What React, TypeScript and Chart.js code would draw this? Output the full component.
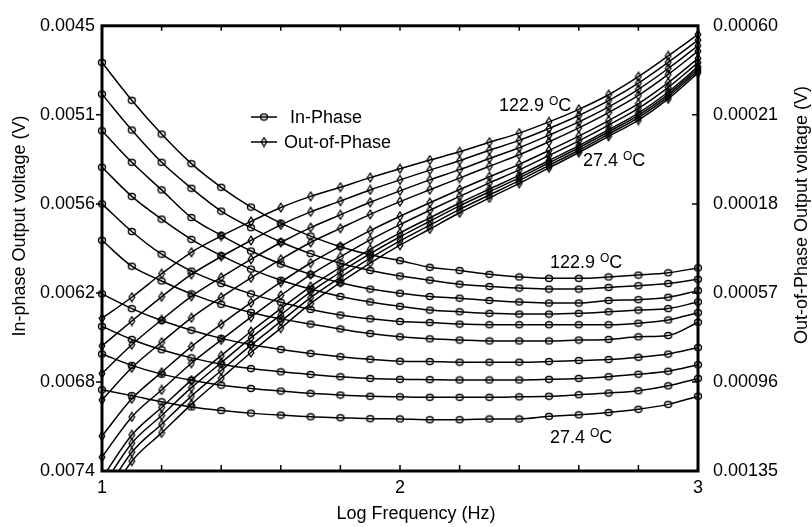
import React, { useEffect, useRef } from 'react';
import { Chart, registerables } from 'chart.js';

Chart.register(...registerables);

// Log frequency (x values)
const logFrequency = [1.0, 1.1, 1.2, 1.3, 1.4, 1.5, 1.6, 1.7, 1.8, 1.9, 2.0, 2.1, 2.2, 2.3, 2.4, 2.5, 2.6, 2.7, 2.8, 2.9, 3.0];

// In-phase output voltage, mV (curve 1 = 122.9 °C ... curve 10 = 27.4 °C)
const inPhase1 = [4.739, 4.985, 5.205, 5.398, 5.552, 5.681, 5.785, 5.870, 5.939, 5.992, 6.030, 6.073, 6.094, 6.119, 6.136, 6.145, 6.145, 6.136, 6.124, 6.109, 6.077];
const inPhase2 = [4.945, 5.179, 5.389, 5.558, 5.707, 5.815, 5.908, 5.984, 6.047, 6.094, 6.130, 6.157, 6.183, 6.198, 6.208, 6.215, 6.215, 6.204, 6.193, 6.179, 6.151];
const inPhase3 = [5.184, 5.389, 5.569, 5.749, 5.865, 5.967, 6.052, 6.119, 6.174, 6.215, 6.242, 6.263, 6.274, 6.289, 6.299, 6.306, 6.306, 6.289, 6.284, 6.268, 6.225];
const inPhase4 = [5.421, 5.611, 5.759, 5.891, 5.997, 6.085, 6.157, 6.215, 6.263, 6.299, 6.327, 6.352, 6.363, 6.373, 6.378, 6.378, 6.373, 6.363, 6.352, 6.342, 6.299];
const inPhase5 = [5.660, 5.840, 5.988, 6.098, 6.179, 6.246, 6.301, 6.348, 6.384, 6.409, 6.426, 6.433, 6.443, 6.447, 6.447, 6.447, 6.447, 6.447, 6.437, 6.416, 6.369];
const inPhase6 = [5.897, 6.066, 6.162, 6.246, 6.314, 6.367, 6.409, 6.443, 6.475, 6.505, 6.526, 6.539, 6.547, 6.553, 6.553, 6.553, 6.547, 6.543, 6.526, 6.517, 6.431];
const inPhase7 = [6.246, 6.342, 6.420, 6.483, 6.536, 6.577, 6.608, 6.634, 6.655, 6.672, 6.685, 6.687, 6.691, 6.691, 6.691, 6.687, 6.680, 6.674, 6.659, 6.638, 6.596];
const inPhase8 = [6.458, 6.543, 6.610, 6.663, 6.704, 6.733, 6.754, 6.771, 6.786, 6.797, 6.803, 6.805, 6.807, 6.807, 6.807, 6.803, 6.797, 6.786, 6.769, 6.750, 6.708];
const inPhase9 = [6.638, 6.712, 6.769, 6.809, 6.841, 6.862, 6.879, 6.894, 6.905, 6.913, 6.917, 6.920, 6.920, 6.920, 6.917, 6.913, 6.903, 6.892, 6.877, 6.845, 6.797];
const inPhase10 = [6.871, 6.909, 6.949, 6.983, 7.006, 7.023, 7.036, 7.047, 7.053, 7.059, 7.061, 7.066, 7.066, 7.061, 7.061, 7.044, 7.034, 7.019, 6.998, 6.966, 6.913];

// Out-of-phase output voltage, µV (curve 1 = 122.9 °C ... curve 10 = 27.4 °C)
const outPhase1 = [681, 589, 486, 392, 321, 257, 196, 147, 107, 65, 26, -12, -48, -90, -130, -179, -234, -298, -377, -468, -562];
const outPhase2 = [802, 693, 587, 489, 411, 340, 272, 215, 168, 119, 75, 32, -9, -55, -98, -150, -207, -272, -349, -440, -537];
const outPhase3 = [923, 797, 688, 585, 502, 423, 349, 284, 228, 173, 123, 75, 30, -19, -66, -121, -179, -245, -322, -413, -513];
const outPhase4 = [1039, 898, 786, 679, 589, 504, 423, 349, 287, 226, 170, 118, 67, 15, -35, -92, -153, -220, -295, -387, -489];
const outPhase5 = [1197, 1034, 918, 805, 707, 613, 523, 439, 366, 297, 234, 175, 117, 61, 7, -54, -117, -185, -259, -351, -457];
const outPhase6 = [1289, 1113, 995, 878, 776, 676, 581, 490, 412, 338, 271, 208, 147, 88, 31, -32, -96, -165, -238, -330, -439];
const outPhase7 = [1381, 1192, 1072, 952, 845, 739, 639, 542, 458, 379, 307, 241, 176, 115, 55, -10, -75, -145, -218, -310, -421];
const outPhase8 = [1422, 1228, 1107, 985, 876, 767, 666, 565, 479, 398, 324, 256, 189, 127, 66, 0, -66, -136, -208, -300, -412];
const outPhase9 = [1468, 1268, 1145, 1022, 910, 799, 695, 591, 502, 418, 342, 273, 204, 141, 78, 11, -55, -126, -198, -290, -403];
const outPhase10 = [1514, 1307, 1183, 1058, 944, 831, 724, 617, 524, 439, 361, 290, 219, 154, 90, 22, -45, -116, -187, -280, -394];

// Axis ticks
const xTickLabels = ['1', '2', '3'];
const leftTickValues = [0.0045, 0.00508, 0.00566, 0.00624, 0.00682, 0.0074];
const leftTickLabels = ['0.0045', '0.0051', '0.0056', '0.0062', '0.0068', '0.0074'];
const rightTickValues = [-0.0006, -0.00021, 0.00018, 0.00057, 0.00096, 0.00135];
const rightTickLabels = ['0.00060', '0.00021', '0.00018', '0.00057', '0.00096', '0.00135'];

// Temperature annotations
const annotationTexts = ['122.9', '27.4', '122.9', '27.4'];
const annotationX = [2.503, 2.503, 2.332, 2.614];
const annotationY = [0.006035, 0.007178, -0.000254, -0.000016];
const annotationAxis = ['y', 'y', 'y2', 'y2'];

const FONT = "'Liberation Sans', Arial, Helvetica, sans-serif";

function makeCircle(): HTMLCanvasElement {
  const c = document.createElement('canvas');
  c.width = 10;
  c.height = 9;
  const ctx = c.getContext('2d')!;
  ctx.strokeStyle = '#000';
  ctx.lineWidth = 1.4;
  ctx.beginPath();
  ctx.ellipse(5, 4.5, 3.5, 3.0, 0, 0, Math.PI * 2);
  ctx.stroke();
  return c;
}

function makeDiamond(): HTMLCanvasElement {
  const c = document.createElement('canvas');
  c.width = 8;
  c.height = 11;
  const ctx = c.getContext('2d')!;
  ctx.strokeStyle = '#000';
  ctx.lineWidth = 1.3;
  ctx.beginPath();
  ctx.moveTo(4, 1.2);
  ctx.lineTo(6.8, 5.5);
  ctx.lineTo(4, 9.8);
  ctx.lineTo(1.2, 5.5);
  ctx.closePath();
  ctx.stroke();
  return c;
}

export default function App() {
  const canvasRef = useRef<HTMLCanvasElement | null>(null);

  useEffect(() => {
    document.body.style.margin = '0';
    const canvas = canvasRef.current;
    if (!canvas) return;
    const circleImg = makeCircle();
    const diamondImg = makeDiamond();

    const inPhaseSeries = [inPhase1, inPhase2, inPhase3, inPhase4, inPhase5, inPhase6, inPhase7, inPhase8, inPhase9, inPhase10];
    const outPhaseSeries = [outPhase1, outPhase2, outPhase3, outPhase4, outPhase5, outPhase6, outPhase7, outPhase8, outPhase9, outPhase10];
    const clip = { left: 8, right: 8, top: 8, bottom: 0 };

    const datasets: any[] = [];
    inPhaseSeries.forEach((s, k) => {
      datasets.push({
        label: 'In-Phase ' + (k + 1),
        data: s.map((v, i) => ({ x: logFrequency[i], y: v / 1000 })),
        yAxisID: 'y',
        borderColor: '#000',
        borderWidth: 1.5,
        pointStyle: circleImg,
        pointRadius: 4,
        cubicInterpolationMode: 'monotone',
        clip,
      });
    });
    outPhaseSeries.forEach((s, k) => {
      datasets.push({
        label: 'Out-of-Phase ' + (k + 1),
        data: s.map((v, i) => ({ x: logFrequency[i], y: v / 1e6 })),
        yAxisID: 'y2',
        borderColor: '#000',
        borderWidth: 1.5,
        pointStyle: diamondImg,
        pointRadius: 4,
        cubicInterpolationMode: 'monotone',
        clip,
      });
    });

    const decor = {
      id: 'decor',
      afterDraw(chart: any) {
        const { ctx, chartArea: a, scales } = chart;
        ctx.save();
        ctx.strokeStyle = '#000';
        ctx.fillStyle = '#000';
        // frame
        ctx.lineWidth = 3;
        ctx.strokeRect(a.left, a.top, a.right - a.left, a.bottom - a.top);
        // x ticks (inward, bottom and top)
        ctx.lineWidth = 1.5;
        ctx.beginPath();
        for (const t of scales.x.ticks) {
          const px = scales.x.getPixelForValue(t.value);
          if (px <= a.left + 2 || px >= a.right - 2) continue;
          ctx.moveTo(px, a.bottom);
          ctx.lineTo(px, a.bottom - 6);
          ctx.moveTo(px, a.top);
          ctx.lineTo(px, a.top + 5);
        }
        // left ticks (outward)
        for (const v of leftTickValues) {
          const py = scales.y.getPixelForValue(v);
          if (py <= a.top + 2 || py >= a.bottom - 2) continue;
          ctx.moveTo(a.left - 6, py);
          ctx.lineTo(a.left, py);
        }
        // right ticks (inward)
        for (const v of rightTickValues) {
          const py = scales.y2.getPixelForValue(v);
          if (py <= a.top + 2 || py >= a.bottom - 2) continue;
          ctx.moveTo(a.right - 6, py);
          ctx.lineTo(a.right, py);
        }
        ctx.stroke();

        // axis titles
        ctx.font = '18px ' + FONT;
        ctx.textAlign = 'center';
        ctx.textBaseline = 'middle';
        ctx.fillText('Log Frequency (Hz)', (a.left + a.right) / 2 + 16, a.bottom + 43);
        ctx.save();
        ctx.translate(20, 226);
        ctx.rotate(-Math.PI / 2);
        ctx.fillText('In-phase Output voltage (V)', 0, 0);
        ctx.restore();
        ctx.save();
        ctx.translate(802, 215);
        ctx.rotate(-Math.PI / 2);
        ctx.fillText('Out-of-Phase Output voltage (V)', 0, 0);
        ctx.restore();

        // temperature annotations
        ctx.textAlign = 'left';
        ctx.textBaseline = 'alphabetic';
        for (let i = 0; i < annotationTexts.length; i++) {
          const px = scales.x.getPixelForValue(annotationX[i]);
          const py = scales[annotationAxis[i]].getPixelForValue(annotationY[i]) + 6.5;
          ctx.font = '18px ' + FONT;
          const t = annotationTexts[i] + ' ';
          ctx.fillText(t, px, py);
          let w = ctx.measureText(t).width;
          ctx.font = '12px ' + FONT;
          ctx.fillText('O', px + w, py - 6);
          w += ctx.measureText('O').width;
          ctx.font = '18px ' + FONT;
          ctx.fillText('C', px + w, py);
        }

        // legend
        const lx = a.left + 149;
        const rows = [
          { y: 117, img: circleImg, text: 'In-Phase', tx: a.left + 188 },
          { y: 142, img: diamondImg, text: 'Out-of-Phase', tx: a.left + 182 },
        ];
        ctx.font = '18px ' + FONT;
        ctx.textBaseline = 'middle';
        for (const r of rows) {
          ctx.lineWidth = 1.5;
          ctx.beginPath();
          ctx.moveTo(lx, r.y);
          ctx.lineTo(lx + 26, r.y);
          ctx.stroke();
          ctx.drawImage(r.img, lx + 13 - r.img.width / 2, r.y - r.img.height / 2);
          ctx.fillText(r.text, r.tx, r.y + 1);
        }
        ctx.restore();
      },
    };

    const chart = new Chart(canvas, {
      type: 'line',
      data: { datasets },
      options: {
        responsive: false,
        animation: false,
        events: [],
        layout: { padding: { top: 16, left: 0, right: 0, bottom: 0 } },
        font: { family: FONT, size: 18 },
        plugins: {
          legend: { display: false },
          tooltip: { enabled: false },
          title: { display: false },
        },
        scales: {
          x: {
            type: 'linear',
            min: 1,
            max: 3,
            grid: { display: false, drawTicks: false },
            border: { display: false },
            ticks: {
              stepSize: 0.2,
              autoSkip: false,
              maxRotation: 0,
              padding: 6,
              color: '#000',
              font: { family: FONT, size: 18 },
              callback: (value: any) => {
                const r = Math.round(value);
                return Math.abs(value - r) < 1e-6 ? xTickLabels[r - 1] : '';
              },
            },
            afterFit: (s: any) => { s.height = 56; },
          },
          y: {
            type: 'linear',
            position: 'left',
            reverse: true,
            min: 0.0045,
            max: 0.0074,
            grid: { display: false, drawTicks: false },
            border: { display: false },
            afterBuildTicks: (s: any) => { s.ticks = leftTickValues.map((v) => ({ value: v })); },
            ticks: {
              autoSkip: false,
              padding: 7,
              color: '#000',
              font: { family: FONT, size: 18 },
              callback: (_v: any, i: number) => leftTickLabels[i],
            },
            afterFit: (s: any) => { s.width = 102; },
          },
          y2: {
            type: 'linear',
            position: 'right',
            reverse: true,
            min: -0.0006,
            max: 0.00135,
            grid: { display: false, drawTicks: false },
            border: { display: false },
            afterBuildTicks: (s: any) => { s.ticks = rightTickValues.map((v) => ({ value: v })); },
            ticks: {
              autoSkip: false,
              padding: 15,
              color: '#000',
              font: { family: FONT, size: 18 },
              callback: (_v: any, i: number) => rightTickLabels[i],
            },
            afterFit: (s: any) => { s.width = 114; },
          },
        },
      } as any,
      plugins: [decor],
    });

    return () => chart.destroy();
  }, []);

  return (
    <div style={{ width: 812, height: 527, background: '#fff' }}>
      <canvas ref={canvasRef} width={812} height={527} style={{ display: 'block' }} />
    </div>
  );
}
